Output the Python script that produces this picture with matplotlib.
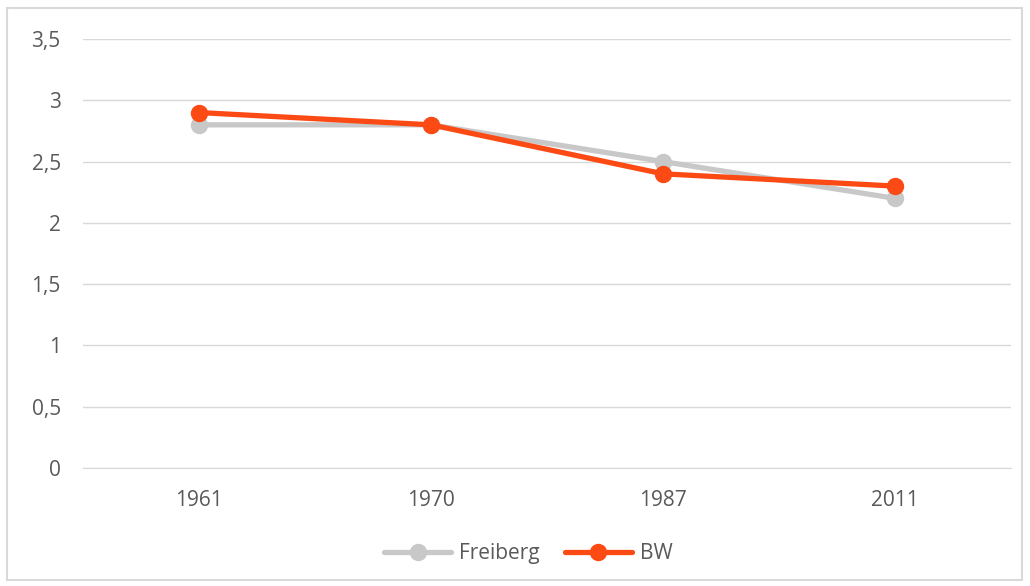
import matplotlib
matplotlib.use("Agg")
import matplotlib.pyplot as plt
from matplotlib.patches import Rectangle

years = ["1961", "1970", "1987", "2011"]
freiberg = [2.8, 2.8, 2.5, 2.2]
bw = [2.9, 2.8, 2.4, 2.3]
y_ticks = [0, 0.5, 1, 1.5, 2, 2.5, 3, 3.5]
y_labels = ["0", "0,5", "1", "1,5", "2", "2,5", "3", "3,5"]

plt.rcParams['font.family'] = ['Open Sans', 'DejaVu Sans']

fig = plt.figure(figsize=(10.3, 5.86), dpi=100)
ax = fig.add_axes([0.0806, 0.2014, 0.9010, 0.7320])

x = range(len(years))
ax.plot(x, freiberg, color="#C8C8C8", lw=3.8, marker="o", ms=11.5,
        label="Freiberg", solid_capstyle="round", zorder=3)
ax.plot(x, bw, color="#FC4A14", lw=3.8, marker="o", ms=11.5,
        label="BW", solid_capstyle="round", zorder=4)

ax.set_xlim(-0.5, len(years) - 0.5)
ax.set_ylim(0, 3.5)
ax.set_yticks(y_ticks)
ax.set_yticklabels(y_labels)
ax.set_xticks(list(x))
ax.set_xticklabels(years)
ax.grid(axis="y", color="#D9D9D9", lw=1)
ax.set_axisbelow(True)
for s in ["top", "right", "left"]:
    ax.spines[s].set_visible(False)
ax.spines["bottom"].set_color("#D9D9D9")
ax.tick_params(length=0, labelsize=15, colors="#595959")
ax.tick_params(axis="y", pad=16)
ax.tick_params(axis="x", pad=16)

leg = ax.legend(loc="center", bbox_to_anchor=(0.48, -0.2), ncol=2, frameon=False,
                fontsize=15, handlelength=3.2, columnspacing=1.2, handletextpad=0.4)
for t in leg.get_texts():
    t.set_color("#595959")

fig.patches.append(Rectangle((7 / 1030, 6 / 586), 1015 / 1030, 572 / 586,
                             transform=fig.transFigure, fill=False,
                             edgecolor="#D9D9D9", lw=1.5))

fig.savefig("out.png", dpi=100, facecolor="white")
